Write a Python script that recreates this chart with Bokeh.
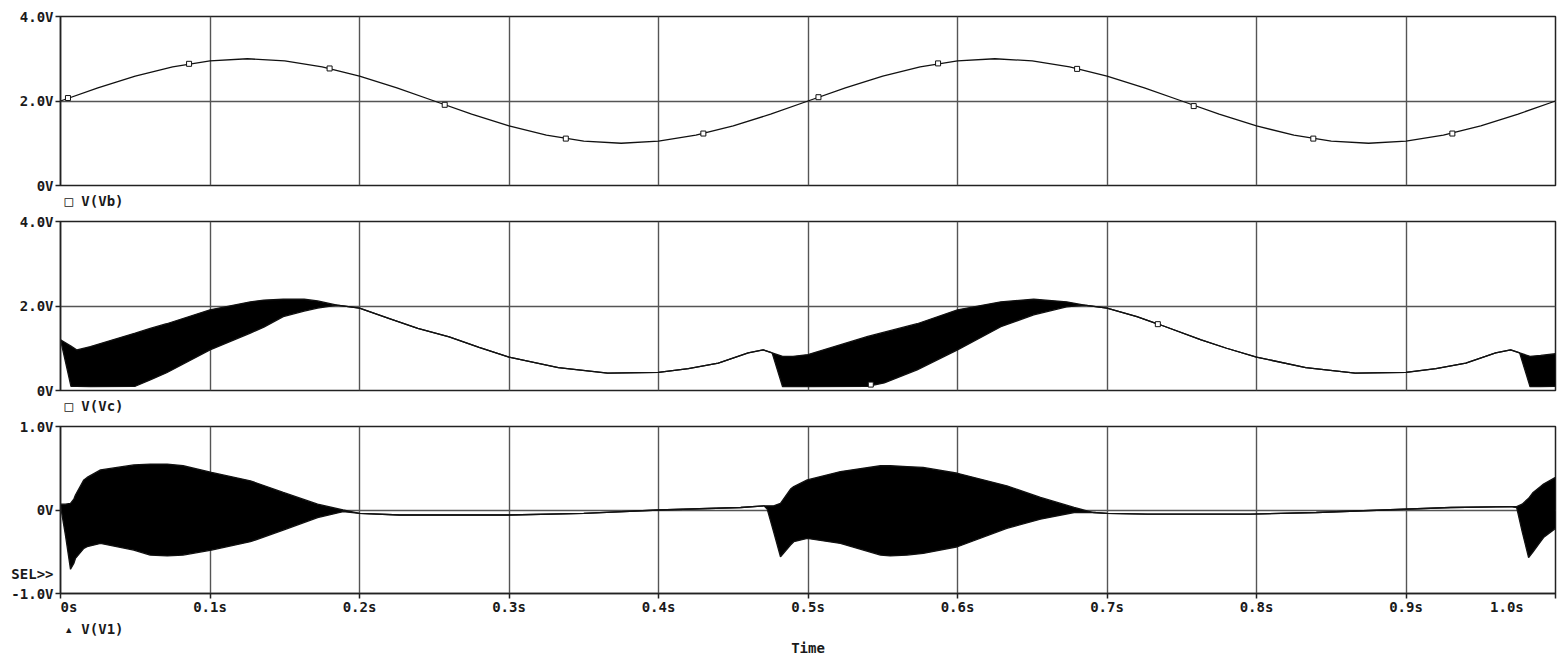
from bokeh.plotting import figure
from bokeh.layouts import column
from bokeh.models import Range1d, FixedTicker, Title, ColumnDataSource
from bokeh.embed import file_html
from bokeh.resources import INLINE

# ---------------- data ----------------
x_ticks = [0.0, 0.1, 0.2, 0.3, 0.4, 0.5, 0.6, 0.7, 0.8, 0.9, 1.0]
x_tick_labels = ["\u00a0\u00a00s", "0.1s", "0.2s", "0.3s", "0.4s", "0.5s",
                 "0.6s", "0.7s", "0.8s", "0.9s", "1.0s\u00a0\u00a0\u00a0\u00a0"]

# V(Vb)
vb_t = [0.0, 0.025, 0.05, 0.075, 0.1, 0.125, 0.15, 0.175, 0.2, 0.225,
        0.25, 0.275, 0.3, 0.325, 0.35, 0.375, 0.4, 0.425, 0.45, 0.475,
        0.5, 0.525, 0.55, 0.575, 0.6, 0.625, 0.65, 0.675, 0.7, 0.725,
        0.75, 0.775, 0.8, 0.825, 0.85, 0.875, 0.9, 0.925, 0.95, 0.975, 1.0]
vb_v = [2.00, 2.31, 2.59, 2.81, 2.95, 3.00, 2.95, 2.81, 2.59, 2.31,
        2.00, 1.69, 1.41, 1.19, 1.05, 1.00, 1.05, 1.19, 1.41, 1.69,
        2.00, 2.31, 2.59, 2.81, 2.95, 3.00, 2.95, 2.81, 2.59, 2.31,
        2.00, 1.69, 1.41, 1.19, 1.05, 1.00, 1.05, 1.19, 1.41, 1.69, 2.00]
vb_mk_t = [0.005, 0.086, 0.18, 0.257, 0.338, 0.43, 0.507, 0.587, 0.68, 0.758, 0.838, 0.931]
vb_mk_v = [2.07, 2.88, 2.77, 1.91, 1.11, 1.23, 2.09, 2.89, 2.76, 1.88, 1.11, 1.23]

# V(Vc): upper / lower envelope of the fast oscillation
vc_t = [0.0, 0.007, 0.011, 0.02, 0.05, 0.06, 0.071, 0.1, 0.127, 0.136, 0.149, 0.163,
        0.172, 0.185, 0.2, 0.22, 0.239, 0.26, 0.28, 0.3, 0.333, 0.366, 0.4, 0.42,
        0.44, 0.46, 0.47, 0.476, 0.483, 0.49, 0.5, 0.54, 0.551, 0.573, 0.6, 0.629,
        0.651, 0.673, 0.685, 0.7, 0.72, 0.736, 0.763, 0.78, 0.8, 0.833, 0.866, 0.9,
        0.92, 0.94, 0.96, 0.97, 0.976, 0.983, 0.99, 1.0]
vc_hi = [1.20, 1.05, 0.96, 1.04, 1.36, 1.47, 1.58, 1.91, 2.10, 2.14, 2.16, 2.16,
         2.12, 2.02, 1.95, 1.70, 1.47, 1.27, 1.02, 0.79, 0.54, 0.41, 0.43, 0.52,
         0.65, 0.89, 0.96, 0.89, 0.81, 0.81, 0.85, 1.28, 1.38, 1.58, 1.91, 2.10,
         2.16, 2.10, 2.02, 1.95, 1.75, 1.55, 1.20, 1.00, 0.79, 0.54, 0.41, 0.43,
         0.52, 0.65, 0.89, 0.96, 0.89, 0.81, 0.83, 0.87]
vc_lo = [1.20, 0.10, 0.10, 0.09, 0.10, 0.25, 0.42, 0.96, 1.36, 1.50, 1.75, 1.88,
         1.95, 2.02, 1.95, 1.70, 1.47, 1.27, 1.02, 0.79, 0.54, 0.41, 0.43, 0.52,
         0.65, 0.89, 0.96, 0.89, 0.09, 0.09, 0.09, 0.10, 0.18, 0.49, 0.96, 1.51,
         1.79, 1.98, 2.02, 1.95, 1.75, 1.55, 1.20, 1.00, 0.79, 0.54, 0.41, 0.43,
         0.52, 0.65, 0.89, 0.96, 0.89, 0.09, 0.09, 0.10]
vc_mk_t = [0.542, 0.734]
vc_mk_v = [0.14, 1.57]

# V(V1): upper / lower envelope
v1_t = [0.0, 0.0033, 0.0067, 0.0089, 0.01, 0.0156, 0.0178, 0.0268, 0.049, 0.06,
        0.0714, 0.082, 0.101, 0.127, 0.149, 0.172, 0.189, 0.2, 0.227, 0.3, 0.35,
        0.4, 0.455, 0.4705, 0.4727, 0.477, 0.4816, 0.4883, 0.4905, 0.4995, 0.5217,
        0.5485, 0.555, 0.5663, 0.577, 0.6, 0.633, 0.6555, 0.678, 0.691, 0.7, 0.727,
        0.796, 0.84, 0.885, 0.93, 0.97, 0.974, 0.9777, 0.982, 0.985, 0.99, 0.992, 1.0]
v1_hi = [0.07, 0.07, 0.08, 0.13, 0.18, 0.36, 0.39, 0.48, 0.54, 0.55,
         0.55, 0.53, 0.45, 0.35, 0.21, 0.07, 0.00, -0.04, -0.06, -0.06, -0.04,
         0.00, 0.03, 0.05, 0.05, 0.05, 0.08, 0.25, 0.28, 0.36, 0.46,
         0.53, 0.53, 0.52, 0.51, 0.44, 0.29, 0.15, 0.03, -0.03, -0.04, -0.05,
         -0.05, -0.03, 0.00, 0.03, 0.04, 0.04, 0.07, 0.14, 0.21, 0.28, 0.31, 0.39]
v1_lo = [0.05, -0.30, -0.71, -0.64, -0.58, -0.46, -0.44, -0.40, -0.48, -0.54,
         -0.55, -0.54, -0.48, -0.38, -0.24, -0.09, -0.02, -0.04, -0.06, -0.06, -0.04,
         0.00, 0.03, 0.05, 0.01, -0.26, -0.56, -0.42, -0.38, -0.34, -0.40,
         -0.54, -0.55, -0.54, -0.52, -0.44, -0.22, -0.11, -0.03, -0.03, -0.04, -0.05,
         -0.05, -0.03, 0.00, 0.03, 0.04, 0.03, -0.26, -0.57, -0.50, -0.38, -0.33, -0.22]

# ---------------- styling ----------------
FONT = "DejaVu Sans Mono"
FSIZE = "14px"
TXT = "#1a1a1a"
GRID = "#555555"
INK = "#111111"

x_range = Range1d(0.0, 1.0)


def make_fig(height, border_top, border_bottom, y0, y1, yticks, ylabels, ygrid):
    p = figure(width=1557, height=height, x_range=x_range, y_range=Range1d(y0, y1),
               output_backend="svg", toolbar_location=None,
               min_border_left=60, min_border_right=2, min_border_top=border_top,
               min_border_bottom=border_bottom)
    p.background_fill_color = "white"
    p.border_fill_color = "white"
    p.outline_line_color = "#222222"
    p.outline_line_width = 1.5
    p.xgrid.ticker = FixedTicker(ticks=x_ticks)
    p.ygrid.ticker = FixedTicker(ticks=ygrid)
    for g in (p.xgrid, p.ygrid):
        g.grid_line_color = GRID
        g.grid_line_width = 1.4
    ax = p.yaxis[0]
    ax.ticker = FixedTicker(ticks=yticks)
    ax.major_label_overrides = dict(zip(yticks, ylabels))
    ax.axis_line_color = "#222222"
    ax.axis_line_width = 1.5
    ax.major_tick_line_color = "#222222"
    ax.major_tick_line_width = 1.5
    ax.major_tick_out = 5
    ax.major_tick_in = 0
    ax.minor_tick_line_color = None
    ax.major_label_standoff = 2
    ax.major_label_text_font = FONT
    ax.major_label_text_font_size = FSIZE
    ax.major_label_text_font_style = "bold"
    ax.major_label_text_color = TXT
    return p


def below_title(p, text, align, standoff, offset=0):
    p.add_layout(Title(text=text, align=align, offset=offset, standoff=standoff,
                       text_font=FONT, text_font_size=FSIZE, text_font_style="bold",
                       text_color=TXT), "below")


# ---- panel 1: V(Vb)
p1 = make_fig(213, 16, 27, 0, 4, [0, 2, 4], ["0V", "2.0V", "4.0V"], [2])
p1.xaxis.visible = False
p1.line(vb_t, vb_v, line_color=INK, line_width=1.3)
p1.scatter(vb_mk_t, vb_mk_v, marker="square", size=5, fill_color="white",
           line_color=INK, line_width=1)
below_title(p1, "\u25a1 V(Vb)", "left", 10, 4)

# ---- panel 2: V(Vc)
p2 = make_fig(205, 8, 27, 0, 4, [0, 2, 4], ["0V", "2.0V", "4.0V"], [2])
p2.xaxis.visible = False
src2 = ColumnDataSource(dict(t=vc_t, hi=vc_hi, lo=vc_lo))
p2.varea(x="t", y1="lo", y2="hi", source=src2, fill_color="black")
p2.line(x="t", y="hi", source=src2, line_color=INK, line_width=1.3)
p2.line(x="t", y="lo", source=src2, line_color=INK, line_width=1.3)
p2.scatter(vc_mk_t, vc_mk_v, marker="square", size=5, fill_color="white",
           line_color=INK, line_width=1)
below_title(p2, "\u25a1 V(Vc)", "left", 10, 4)

# ---- panel 3: V(V1)  (the "SEL>>" marker sits above the -1.0V tick label)
p3 = make_fig(237, 8, 59, -1, 1, [-1, 0, 1], ["SEL>>\n-1.0V\n\u00a0", "0V", "1.0V"], [0])
src3 = ColumnDataSource(dict(t=v1_t, hi=v1_hi, lo=v1_lo))
p3.varea(x="t", y1="lo", y2="hi", source=src3, fill_color="black")
p3.line(x="t", y="hi", source=src3, line_color=INK, line_width=1.3)
p3.line(x="t", y="lo", source=src3, line_color=INK, line_width=1.3)
xa = p3.xaxis[0]
xa.ticker = FixedTicker(ticks=x_ticks)
xa.major_label_overrides = dict(zip(x_ticks, x_tick_labels))
xa.axis_line_color = "#222222"
xa.axis_line_width = 1.5
xa.major_tick_line_color = "#222222"
xa.major_tick_line_width = 1.5
xa.major_tick_out = 5
xa.major_tick_in = 0
xa.minor_tick_line_color = None
xa.major_label_standoff = 0
xa.major_label_text_font = FONT
xa.major_label_text_font_size = FSIZE
xa.major_label_text_font_style = "bold"
xa.major_label_text_color = TXT
below_title(p3, "\u25b4 V(V1)", "left", 2, 4)
below_title(p3, "Time", "center", 0, 0)

layout = column(p1, p2, p3, spacing=0)
open("out.html", "w").write(file_html(layout, INLINE))
